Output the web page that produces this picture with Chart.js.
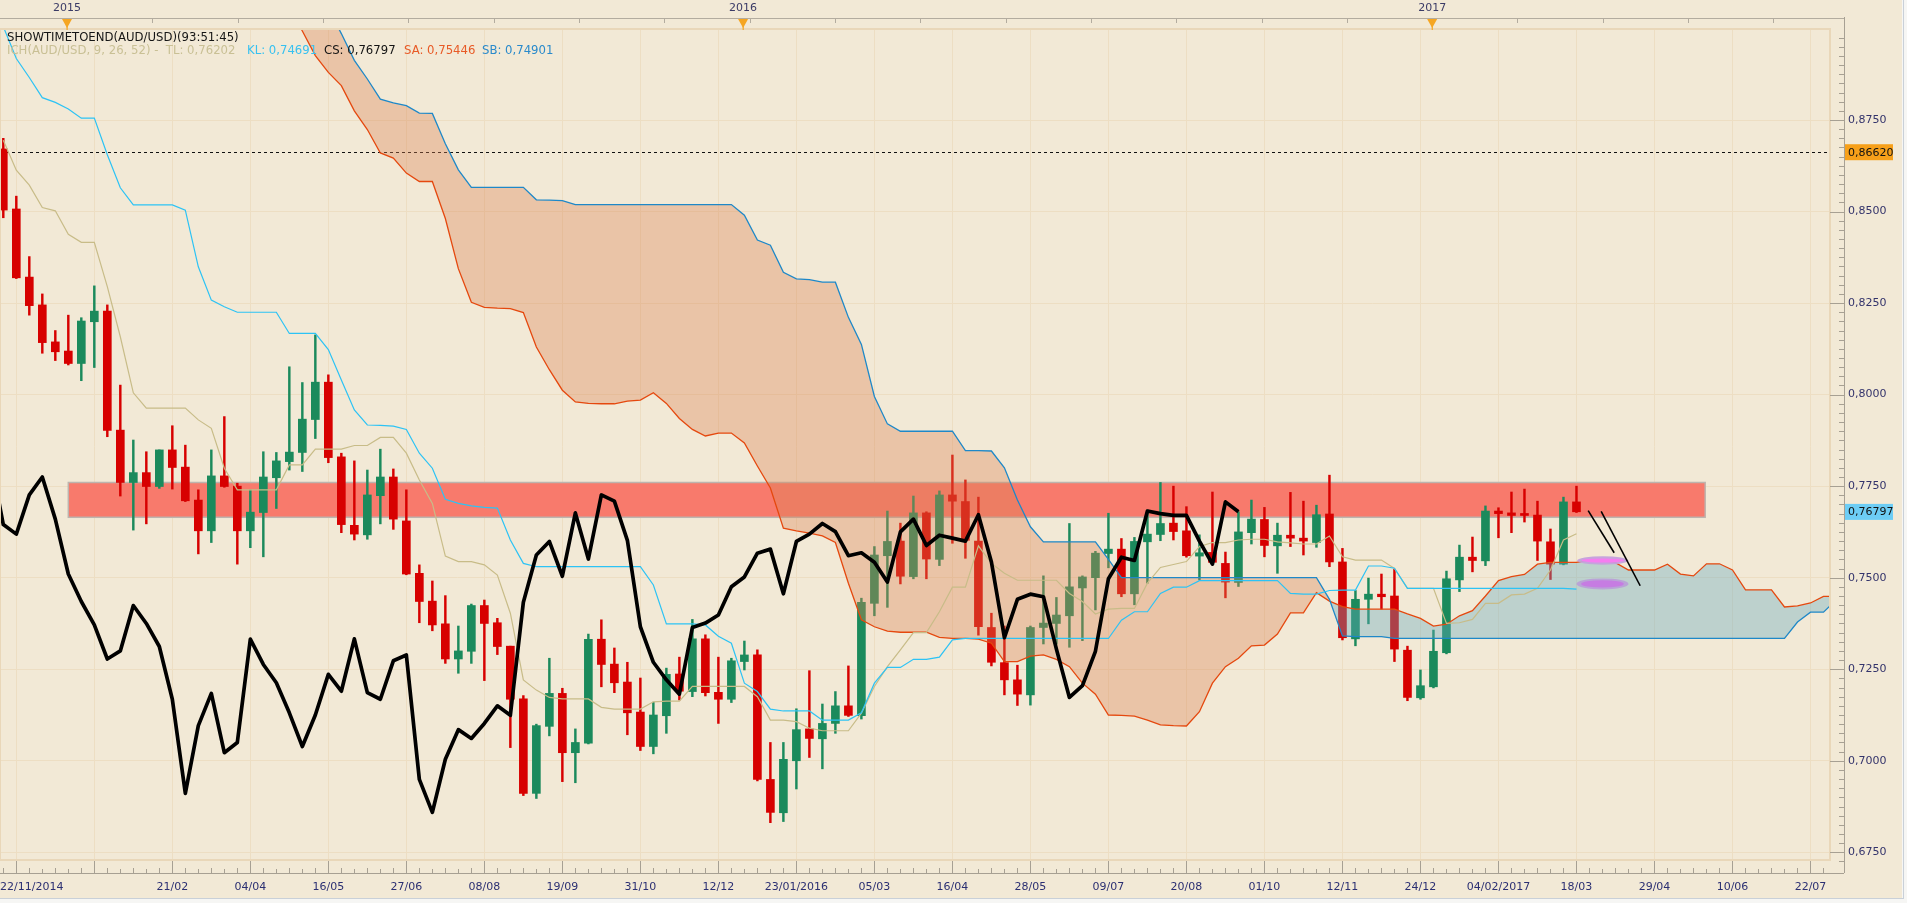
<!DOCTYPE html>
<html>
<head>
<meta charset="utf-8">
<script src="https://cdn.jsdelivr.net/npm/chart.js@4/dist/chart.umd.min.js"></script>
<style>
html,body{margin:0;padding:0;background:#F2E9D6;overflow:hidden}
canvas{display:block}
</style>
</head>
<body>
<canvas id="c" width="1907" height="903"></canvas>
<script>
// ---------------- DATA (weekly candles, week 0 = 22/11/2014) ----------------
const openP = [
 .8671,.8507,.8321,.8245,.8144,.8119,.8085,.8199,.8228,.7903,
 .7760,.7787,.7749,.7849,.7802,.7712,.7628,.7778,.7750,.7628,
 .7678,.7773,.7817,.7842,.7932,.8034,.7830,.7643,.7617,.7724,
 .7775,.7655,.7512,.7436,.7374,.7278,.7299,.7424,.7377,.7313,
 .7169,.6911,.7094,.7184,.7022,.7048,.7332,.7264,.7215,.7133,
 .7039,.7123,.7237,.7189,.7333,.7187,.7168,.7271,.7289,.6949,
 .6858,.7000,.7087,.7060,.7102,.7150,.7123,.7430,.7560,.7600,
 .7503,.7677,.7550,.7726,.7708,.7600,.7364,.7268,.7221,.7180,
 .7364,.7375,.7396,.7472,.7500,.7566,.7578,.7456,.7598,.7618,
 .7649,.7628,.7559,.7569,.7539,.7487,.7623,.7659,.7587,.7616,
 .7608,.7596,.7674,.7543,.7333,.7441,.7455,.7450,.7302,.7172,
 .7202,.7295,.7494,.7556,.7546,.7682,.7677,.7671,.7671,.7598,
 .7537,.7707];
const highP = [
 .8700,.8542,.8377,.8275,.8175,.8217,.8210,.8297,.8245,.8026,
 .7876,.7844,.7849,.7915,.7862,.7740,.7849,.7940,.7758,.7740,
 .7844,.7842,.8076,.8033,.8163,.8054,.7840,.7819,.7794,.7851,
 .7797,.7740,.7535,.7491,.7451,.7368,.7428,.7439,.7389,.7313,
 .7178,.7100,.7280,.7198,.7087,.7346,.7385,.7308,.7269,.7226,
 .7160,.7253,.7283,.7386,.7344,.7283,.7280,.7327,.7303,.7050,
 .7050,.7142,.7246,.7155,.7189,.7259,.7444,.7585,.7682,.7649,
 .7723,.7680,.7737,.7835,.7767,.7720,.7403,.7368,.7261,.7368,
 .7505,.7446,.7648,.7505,.7572,.7676,.7607,.7610,.7685,.7760,
 .7750,.7694,.7617,.7734,.7570,.7680,.7712,.7692,.7649,.7733,
 .7709,.7698,.7780,.7580,.7465,.7499,.7510,.7523,.7313,.7248,
 .7357,.7518,.7589,.7611,.7696,.7691,.7734,.7742,.7709,.7633,
 .7720,.7750];
const lowP = [
 .8483,.8317,.8217,.8113,.8093,.8081,.8038,.8074,.7885,.7723,
 .7630,.7647,.7744,.7742,.7708,.7565,.7596,.7747,.7537,.7582,
 .7557,.7689,.7794,.7790,.7880,.7814,.7623,.7603,.7605,.7647,
 .7632,.7508,.7377,.7355,.7266,.7239,.7266,.7219,.7290,.7036,
 .6905,.6897,.7068,.6943,.6940,.7046,.7202,.7186,.7071,.7028,
 .7019,.7075,.7166,.7175,.7177,.7102,.7159,.7248,.6945,.6831,
 .6834,.6923,.7009,.6978,.7075,.7121,.7114,.7396,.7419,.7483,
 .7497,.7497,.7533,.7594,.7553,.7343,.7259,.7180,.7151,.7152,
 .7319,.7319,.7310,.7328,.7412,.7527,.7448,.7426,.7485,.7601,
 .7603,.7556,.7494,.7537,.7445,.7476,.7592,.7557,.7512,.7585,
 .7562,.7583,.7530,.7330,.7314,.7374,.7414,.7271,.7164,.7168,
 .7199,.7292,.7462,.7516,.7533,.7609,.7623,.7652,.7547,.7495,
 .7535,.7678];
const closeP = [
 .8504,.8319,.8243,.8142,.8117,.8085,.8201,.8228,.7902,.7760,
 .7787,.7749,.7849,.7801,.7710,.7628,.7778,.7749,.7628,.7679,
 .7775,.7819,.7843,.7933,.8034,.7828,.7645,.7619,.7726,.7775,
 .7660,.7510,.7435,.7371,.7278,.7300,.7424,.7375,.7312,.7168,
 .6911,.7096,.7184,.7022,.7050,.7332,.7263,.7213,.7131,.7039,
 .7125,.7236,.7190,.7333,.7186,.7168,.7273,.7289,.6949,.6859,
 .7004,.7085,.7061,.7102,.7150,.7124,.7433,.7562,.7599,.7504,
 .7677,.7551,.7726,.7709,.7602,.7366,.7269,.7221,.7182,.7364,
 .7376,.7398,.7475,.7502,.7567,.7578,.7456,.7599,.7619,.7648,
 .7626,.7560,.7568,.7542,.7488,.7625,.7660,.7588,.7616,.7608,
 .7600,.7672,.7543,.7336,.7441,.7455,.7448,.7305,.7173,.7205,
 .7299,.7497,.7556,.7547,.7682,.7675,.7670,.7670,.7600,.7537,
 .7707,.7680];

// Ichimoku lines
const tenkan = [
 .8695,.8613,.8572,.8511,.8502,.8438,.8416,.8416,.8295,.8158,
 .8005,.7963,.7963,.7963,.7963,.7931,.7908,.7799,.7740,.7740,
 .7740,.7740,.7808,.7808,.7851,.7851,.7851,.7861,.7861,.7883,
 .7883,.7840,.7767,.7703,.7559,.7544,.7544,.7535,.7507,.7403,
 .7221,.7193,.7173,.7169,.7169,.7169,.7146,.7141,.7141,.7141,
 .7161,.7163,.7163,.7203,.7203,.7203,.7203,.7203,.7175,.7111,
 .7111,.7107,.7089,.7082,.7082,.7082,.7130,.7203,.7257,.7303,
 .7350,.7350,.7407,.7474,.7474,.7587,.7539,.7512,.7493,.7493,
 .7493,.7493,.7457,.7435,.7401,.7414,.7416,.7416,.7485,.7528,
 .7536,.7544,.7585,.7596,.7596,.7603,.7605,.7605,.7598,.7595,
 .7592,.7592,.7614,.7557,.7548,.7548,.7548,.7525,.7471,.7471,
 .7471,.7375,.7377,.7386,.7430,.7430,.7453,.7455,.7471,.7521,
 .7603,.7620];
const kijun = [
 .9005,.8918,.8866,.8811,.8798,.8780,.8755,.8755,.8655,.8565,
 .8518,.8518,.8518,.8518,.8504,.8349,.8258,.8240,.8225,.8225,
 .8225,.8225,.8167,.8167,.8167,.8123,.8040,.7958,.7917,.7916,
 .7914,.7905,.7840,.7799,.7714,.7703,.7696,.7692,.7690,.7603,
 .7539,.7530,.7530,.7530,.7530,.7530,.7530,.7530,.7530,.7530,
 .7480,.7374,.7374,.7374,.7371,.7340,.7321,.7212,.7189,.7141,
 .7136,.7136,.7136,.7111,.7111,.7111,.7131,.7212,.7255,.7255,
 .7277,.7277,.7283,.7330,.7334,.7334,.7334,.7334,.7334,.7334,
 .7334,.7334,.7334,.7334,.7334,.7334,.7384,.7407,.7407,.7457,
 .7474,.7474,.7492,.7492,.7492,.7492,.7492,.7492,.7492,.7457,
 .7455,.7455,.7465,.7466,.7466,.7532,.7532,.7526,.7471,.7471,
 .7471,.7471,.7471,.7471,.7471,.7471,.7471,.7471,.7471,.7471,
 .7471,.7469];
const senkouAStart = 22;
const senkouA = [
 .9060,.8993,.8926,.8880,.8844,.8775,.8724,.8660,.8646,.8605,
 .8582,.8582,.8481,.8344,.8252,.8238,.8236,.8235,.8224,.8130,
 .8068,.8012,.7980,.7976,.7975,.7975,.7982,.7985,.8005,.7976,
 .7935,.7905,.7887,.7895,.7895,.7868,.7805,.7745,.7635,.7628,
 .7622,.7614,.7596,.7485,.7385,.7366,.7354,.7351,.7351,.7351,
 .7337,.7334,.7334,.7332,.7321,.7271,.7271,.7286,.7289,.7277,
 .7257,.7212,.7182,.7125,.7124,.7122,.7111,.7098,.7096,.7095,
 .7134,.7212,.7257,.7280,.7314,.7316,.7346,.7404,.7404,.7459,
 .7436,.7421,.7414,.7414,.7414,.7414,.7401,.7389,.7368,.7373,
 .7396,.7410,.7450,.7492,.7503,.7509,.7537,.7542,.7542,.7542,
 .7548,.7546,.7541,.7521,.7521,.7521,.7537,.7510,.7505,.7538,
 .7538,.7521,.7467,.7467,.7467,.7420,.7423,.7431,.7449,.7449];
const senkouBStart = 23;
const senkouB = [
 .9180,.9120,.9055,.8986,.8913,.8862,.8807,.8797,.8789,
 .8769,.8768,.8685,.8614,.8566,.8566,.8566,.8566,.8566,.8532,
 .8531,.8530,.8519,.8519,.8519,.8519,.8519,.8519,.8519,.8519,
 .8519,.8519,.8519,.8519,.8519,.8490,.8422,.8408,.8334,.8316,
 .8314,.8307,.8307,.8211,.8137,.7995,.7920,.7900,.7900,.7900,
 .7900,.7900,.7847,.7847,.7846,.7800,.7712,.7639,.7598,.7598,
 .7598,.7598,.7598,.7550,.7500,.7500,.7500,.7500,.7500,.7500,
 .7500,.7500,.7500,.7500,.7500,.7500,.7500,.7500,.7500,.7500,
 .7441,.7341,.7339,.7339,.7339,.7334,.7334,.7334,.7334,.7334,
 .7334,.7334,.7334,.7334,.7334,.7334,.7334,.7334,.7334,.7334,
 .7334,.7334,.7334,.7334,.7334,.7334,.7334,.7334,.7334,.7334,
 .7334,.7334,.7334,.7334,.7334,.7334,
 .7379,.7406,.7406,.7440];
const chikouShift = 26;

// axes / labels
const xGridWeeks = [1,7,13,19,25,31,37,43,49,55,61,67,73,79,85,91,97,103,109,115,121,127,133,139];
const xLabelWeeks = [13,19,25,31,37,43,49,55,61,67,73,79,85,91,97,103,109,115,121,127,133,139];
const xLabelTexts = ['21/02','04/04','16/05','27/06','08/08','19/09','31/10','12/12','23/01/2016','05/03','16/04','28/05','09/07','20/08','01/10','12/11','24/12','04/02/2017','18/03','29/04','10/06','22/07'];
const firstDateLabel = '22/11/2014';
const yTickValues = [0.675,0.700,0.725,0.750,0.775,0.800,0.825,0.850,0.875];
const yearWeeks = [4.9, 56.9, 109.9];
const yearLabels = ['2015','2016','2017'];

// annotations
const zoneWeeks = [5.0, 130.9];
const zoneLevels = [0.7665, 0.7760];
const dashedLevel = 0.8662;
const dashedLabel = '0,86620';
const lastPrice = 0.76797;
const lastPriceLabel = '0,76797';
const ellipseWeeks = [[121.05,125.0],[121.0,125.0]];
const ellipseLevels = [0.7547, 0.7483];
const diagLines = [[121.9,0.7683,123.9,0.7568],[122.9,0.7681,125.9,0.7478]];
const titleText = 'SHOWTIMETOEND(AUD/USD)(93:51:45)';
const legendTexts = ['ICH(AUD/USD, 9, 26, 52) -  TL: 0,76202','KL: 0,74691','CS: 0,76797','SA: 0,75446','SB: 0,74901'];

// ---------------- CHART ----------------
const FONT = '"DejaVu Sans", "Noto Sans", sans-serif';
Chart.defaults.font.family = FONT;
const RED = '#D70000', GREEN = '#1B8A5C';
const candleColors = openP.map((o,i)=> closeP[i] > o ? GREEN : RED);

const wickData = highP.map((h,i)=>({x:i, y:[lowP[i], h]}));
const bodyData = openP.map((o,i)=>({x:i, y:[o, closeP[i]]}));
const toPts = (arr, start) => arr.map((v,i)=>({x:start+i, y:v}));
const chikouData = closeP.slice(chikouShift-1).map((c,i)=>({x:i-1, y:c}));

const decoPlugin = {
  id:'deco',
  beforeDraw(chart){
    const {ctx,width,height} = chart;
    ctx.save();
    ctx.fillStyle = '#F2E9D6';
    ctx.fillRect(0,0,width,height);
    ctx.restore();
  },
  beforeDatasetsDraw(chart){
    const {ctx, chartArea:a, scales:{x,y}} = chart;
    ctx.save();
    // resistance zone
    const x0 = x.getPixelForValue(zoneWeeks[0]), x1 = x.getPixelForValue(zoneWeeks[1]);
    const yT = y.getPixelForValue(zoneLevels[1]), yB = y.getPixelForValue(zoneLevels[0]);
    ctx.fillStyle = '#F87A6C';
    ctx.fillRect(x0, yT, x1-x0, yB-yT);
    ctx.strokeStyle = '#BDB4AE';
    ctx.lineWidth = 1.5;
    ctx.strokeRect(x0, yT, x1-x0, yB-yT);
    // dashed level
    const yd = Math.round(y.getPixelForValue(dashedLevel))+0.5;
    ctx.setLineDash([3,3]);
    ctx.strokeStyle = '#111';
    ctx.lineWidth = 1;
    ctx.beginPath(); ctx.moveTo(a.left, yd); ctx.lineTo(a.right-3, yd); ctx.stroke();
    ctx.restore();
  },
  afterDatasetsDraw(chart){
    const {ctx, scales:{x,y}} = chart;
    ctx.save();
    // ellipses
    const styles = [
      {halo:'rgba(196,160,220,0.95)', core:'#F57DF0', hr:4.2, cr:2},
      {halo:'rgba(185,160,215,0.95)', core:'#C67CE2', hr:5.5, cr:3.6}
    ];
    ellipseWeeks.forEach((w,i)=>{
      const xa = x.getPixelForValue(w[0]), xb = x.getPixelForValue(w[1]);
      const cx = (xa+xb)/2, rx = (xb-xa)/2, cy = y.getPixelForValue(ellipseLevels[i]);
      const s = styles[i];
      ctx.fillStyle = s.halo;
      ctx.beginPath(); ctx.ellipse(cx, cy, rx, s.hr, 0, 0, Math.PI*2); ctx.fill();
      ctx.fillStyle = s.core;
      ctx.beginPath(); ctx.ellipse(cx, cy, rx*0.82, s.cr, 0, 0, Math.PI*2); ctx.fill();
    });
    // diagonal lines
    ctx.strokeStyle = '#000';
    ctx.lineWidth = 1.6;
    diagLines.forEach(l=>{
      ctx.beginPath();
      ctx.moveTo(x.getPixelForValue(l[0]), y.getPixelForValue(l[1]));
      ctx.lineTo(x.getPixelForValue(l[2]), y.getPixelForValue(l[3]));
      ctx.stroke();
    });
    ctx.restore();
  },
  afterDraw(chart){
    const {ctx, chartArea:a, scales:{x,y}, width, height} = chart;
    ctx.save();
    // panel frame
    ctx.strokeStyle = '#E9D7B9';
    ctx.lineWidth = 2;
    ctx.strokeRect(a.left, a.top-1, a.right-a.left, a.bottom-a.top-2);
    const axisCol = '#A7A093';
    const rulerX = a.right + 14, rulerY = a.bottom + 10;
    // right ruler
    ctx.strokeStyle = axisCol; ctx.lineWidth = 1;
    ctx.beginPath(); ctx.moveTo(rulerX+0.5, 17); ctx.lineTo(rulerX+0.5, rulerY); ctx.stroke();
    for (let k = 0; k <= 92; k++){
      const v = 0.6725 + k*0.0025;
      const py = Math.round(y.getPixelForValue(v))+0.5;
      if (py < a.top || py > a.bottom) continue;
      const major = (k % 10) === 1;
      ctx.beginPath(); ctx.moveTo(major ? a.right : rulerX - 5, py); ctx.lineTo(rulerX, py); ctx.stroke();
    }
    // bottom ruler
    ctx.beginPath(); ctx.moveTo(0, rulerY+0.5); ctx.lineTo(rulerX, rulerY+0.5); ctx.stroke();
    for (let w = 0; w <= 140; w++){
      const px = Math.round(x.getPixelForValue(w))+0.5;
      const major = xGridWeeks.includes(w);
      const len = major ? 12 : ((w % 2) ? 4 : 5);
      ctx.beginPath(); ctx.moveTo(px, rulerY - len); ctx.lineTo(px, rulerY); ctx.stroke();
    }
    // x labels
    ctx.fillStyle = '#2B2F72';
    ctx.font = '11px ' + FONT;
    ctx.textBaseline = 'middle';
    ctx.textAlign = 'left';
    ctx.fillText(firstDateLabel, 0, 887);
    ctx.textAlign = 'center';
    xLabelWeeks.forEach((w,i)=> ctx.fillText(xLabelTexts[i], x.getPixelForValue(w), 887));
    // top axis
    ctx.strokeStyle = '#B3AC9F';
    ctx.beginPath(); ctx.moveTo(0, 18.5); ctx.lineTo(rulerX, 18.5); ctx.stroke();
    const yearStep = (yearWeeks[2]-yearWeeks[0])/16;
    for (let t = yearWeeks[0]; t <= 141; t += yearStep){
      const px = Math.round(x.getPixelForValue(t))+0.5;
      ctx.beginPath(); ctx.moveTo(px, 18.5); ctx.lineTo(px, 23); ctx.stroke();
    }
    ctx.textAlign = 'center';
    yearWeeks.forEach((w,i)=>{
      const px = x.getPixelForValue(w);
      ctx.fillStyle = '#3B3B66';
      ctx.fillText(yearLabels[i], px, 8);
      ctx.fillStyle = '#F5A623';
      ctx.beginPath(); ctx.moveTo(px-5, 19); ctx.lineTo(px+5, 19); ctx.lineTo(px, 28); ctx.closePath(); ctx.fill();
      ctx.fillRect(px-0.5, 26, 1.2, 4);
    });
    // price boxes
    const boxes = [[dashedLevel, dashedLabel, '#F7A01A'],[lastPrice, lastPriceLabel, '#6DCDF5']];
    boxes.forEach(b=>{
      const py = y.getPixelForValue(b[0]);
      ctx.fillStyle = b[2];
      ctx.fillRect(rulerX+1, py-8, 48, 16);
      ctx.fillStyle = '#111';
      ctx.textAlign = 'left';
      ctx.fillText(b[1], rulerX+4, py+0.5);
    });
    // header texts
    ctx.font = '11.7px ' + FONT;
    ctx.textAlign = 'left';
    ctx.fillStyle = '#151515';
    ctx.fillText(titleText, 7, 38);
    const legCols = ['#C9C095','#37C1F0','#141414','#E85A26','#2A8ACB'];
    const legX = [7, 247, 324, 404, 482];
    legendTexts.forEach((t,i)=>{ ctx.fillStyle = legCols[i]; ctx.fillText(t, legX[i], 51); });
    // outer edge strips
    ctx.fillStyle = '#F6F6F4';
    ctx.fillRect(width-5, 0, 5, height);
    ctx.fillRect(0, height-5, width, 5);
    ctx.fillStyle = '#C9D0D8';
    ctx.fillRect(width-4, 0, 1, height-4);
    ctx.fillRect(0, height-5, width-4, 1);
    ctx.restore();
  }
};

new Chart(document.getElementById('c'), {
  type: 'bar',
  data: {
    datasets: [
      { type:'bar', label:'wick', data: wickData, backgroundColor: candleColors, barThickness: 1.8, grouped:false, order:10, borderWidth:0 },
      { type:'bar', label:'body', data: bodyData, backgroundColor: candleColors, barThickness: 8, grouped:false, order:9, borderWidth:0, minBarLength:2 },
      { type:'line', label:'SB', data: toPts(senkouB, senkouBStart), borderColor:'#1E88C8', borderWidth:1.3, pointRadius:0, tension:0, fill:false, order:5 },
      { type:'line', label:'SA', data: toPts(senkouA, senkouAStart), borderColor:'#E5480E', borderWidth:1.3, pointRadius:0, tension:0, order:6,
        fill:{ target:2, above:'rgba(103,171,191,0.38)', below:'rgba(220,131,83,0.36)' } },
      { type:'line', label:'TL', data: toPts(tenkan, 0), borderColor:'#C8BC88', borderWidth:1.2, pointRadius:0, tension:0, fill:false, order:4 },
      { type:'line', label:'KL', data: toPts(kijun, 0), borderColor:'#2CC3F5', borderWidth:1.2, pointRadius:0, tension:0, fill:false, order:3 },
      { type:'line', label:'CS', data: chikouData, borderColor:'#000000', borderWidth:3.7, pointRadius:0, tension:0, fill:false, order:1, borderJoinStyle:'round' }
    ]
  },
  options: {
    responsive:false,
    devicePixelRatio:1,
    animation:false,
    events:[],
    layout:{ padding:{ top:30, left:0, right:0, bottom:0 } },
    plugins:{ legend:{display:false}, tooltip:{enabled:false}, title:{display:false} },
    scales:{
      x:{
        type:'linear', position:'bottom', min:-0.254, max:140.5, offset:false,
        afterBuildTicks: s => { s.ticks = xGridWeeks.map(v=>({value:v})); },
        afterFit: s => { s.height = 40; },
        ticks:{ display:false },
        grid:{ color:'#EDDEC3', drawTicks:false, offset:false, lineWidth:1 },
        border:{ display:false }
      },
      y:{
        type:'linear', position:'right', min:0.67208, max:0.89958,
        afterBuildTicks: s => { s.ticks = yTickValues.map(v=>({value:v})); },
        afterFit: s => { s.width = 77; },
        ticks:{ callback: v => v.toFixed(4).replace('.', ','), color:'#33336B', font:{ size:11, family:FONT }, padding:18 },
        grid:{ color:'#EDDEC3', drawTicks:false, lineWidth:1 },
        border:{ display:false }
      }
    }
  },
  plugins:[decoPlugin]
});
</script>
</body>
</html>
